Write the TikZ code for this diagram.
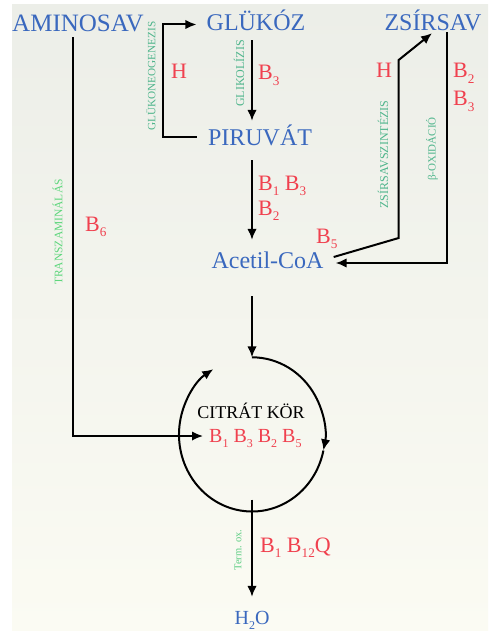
\documentclass[tikz,border=0pt]{standalone}
\usepackage{fontspec}
\setmainfont{Liberation Serif}
\usetikzlibrary{arrows.meta,shapes.geometric,calc}
\definecolor{tblue}{HTML}{3A68BE}
\definecolor{tred}{HTML}{F0414F}
\definecolor{tgreen}{HTML}{4FB58C}
\definecolor{tlgreen}{HTML}{5ED67C}
\definecolor{bgtop}{HTML}{ECEEE8}
\definecolor{bgbot}{HTML}{FBFBF3}
\newcommand\sbs[1]{\raisebox{-0.27em}{\scalebox{0.6}{#1}}}
\begin{document}
\begin{tikzpicture}[x=1pt,y=-1pt,
 arr/.style={draw=black, line width=2pt, -{Latex[length=11pt,width=9.5pt]}},
 mol/.style={text=tblue, font=\fontsize{24}{24}\selectfont, inner sep=0pt, text height=17pt, text depth=0pt, anchor=base},
 vit/.style={text=tred, font=\fontsize{22}{22}\selectfont, inner sep=0pt, anchor=base west},
 proc/.style={text=tgreen, inner sep=0pt, rotate=90},
]
\useasboundingbox (0,0) rectangle (488,631);
\fill[white] (0,0) rectangle (488,631);
\shade[top color=bgtop, bottom color=bgbot] (12,5) rectangle (488,631);

% molecules
\node[mol, font=\fontsize{25}{25}\selectfont] (amino) at (78,32) {AMINOSAV};
\node[mol] (gluk) at (256,31) {GLÜKÓZ};
\node[mol] (zsir) at (433,31) {ZSÍRSAV};
\node[mol] (piru) at (260,146) {PIRUVÁT};
\node[mol] (acetil) at (267.5,268) {Acetil-CoA};
\node[mol, font=\fontsize{20}{20}\selectfont, text height=15pt] (h2o) at (252,624) {H\sbs{2}O};
\node[text=black, font=\fontsize{18}{18}\selectfont, inner sep=0pt, anchor=base] (citrat) at (251,418) {CITRÁT KÖR};

% process labels
\node[proc, font=\fontsize{11.2}{11.2}\selectfont] (gng) at (151,76) {GLÜKONEOGENEZIS};
\node[proc, font=\fontsize{12}{12}\selectfont] (gly) at (239,73.5) {GLIKOLÍZIS};
\node[proc, text=tlgreen, font=\fontsize{11.5}{11.5}\selectfont] (trans) at (57.5,232) {TRANSZAMINÁLÁS};
\node[proc, font=\fontsize{12}{12}\selectfont] (szint) at (383,154.5) {ZSÍRSAVSZINTÉZIS};
\node[proc, font=\fontsize{11}{11}\selectfont] (box) at (432,149) {β-OXIDÁCIÓ};
\node[proc, text=tlgreen!70!tgreen, font=\fontsize{10.5}{10.5}\selectfont] (term) at (238,550) {Term. ox.};

% vitamins
\node[vit] (hg) at (171,79) {H};
\node[vit] (b3g) at (258,80) {B\sbs{3}};
\node[vit] (b13) at (258,190) {B\sbs{1} B\sbs{3}};
\node[vit] (b2p) at (258,215) {B\sbs{2}};
\node[vit] (hz) at (376,78) {H};
\node[vit] (b2z) at (453,78) {B\sbs{2}};
\node[vit] (b3z) at (453,106) {B\sbs{3}};
\node[vit] (b5) at (316,243) {B\sbs{5}};
\node[vit] (b6) at (85,231) {B\sbs{6}};
\node[vit] (b112) at (260,552) {B\sbs{1} B\sbs{12}Q};
\node[vit, font=\fontsize{20}{20}\selectfont, text height=14pt, text depth=0pt] (bcit) at (209,442) {B\sbs{1} B\sbs{3} B\sbs{2} B\sbs{5}};

% citrate cycle
\node[ellipse, minimum width=146pt, minimum height=154pt, inner sep=0pt] (kor) at (252,434.5) {};
\draw[arr] (kor.north) arc[start angle=90, end angle=-12, x radius=73pt, y radius=77pt];
\draw[arr] ($(kor.center)+(-12:73pt and 77pt)$) arc[start angle=-12, end angle=-238, x radius=73pt, y radius=77pt];

% connectors
\draw[arr] ([xshift=-11pt]piru.west) -- ++(-34,0) |- ([xshift=-10pt,yshift=-2pt]gluk.west);
\draw[arr] ([xshift=-4pt,yshift=-9pt]gluk.south) -- ([xshift=-8pt,yshift=8pt]piru.north);
\draw[arr] ([xshift=-8pt,yshift=-14pt]piru.south) -- ([xshift=-15.5pt,yshift=11pt]acetil.north);
\draw[arr] ([xshift=-15.5pt,yshift=-28pt]acetil.south) -- (kor.north);
\draw[arr] ([yshift=12pt]kor.south) -- ([yshift=12pt]h2o.north);
\draw[arr] ([xshift=-5pt,yshift=-5pt]amino.south) |- ([xshift=-6pt,yshift=-1pt]bcit.west);
\draw[arr] ([xshift=10pt,yshift=2.5pt]acetil.east) -- ++(65,-19) -- ++(0,-178) -- ([xshift=-1pt,yshift=-2pt]zsir.south);
\draw[arr] ([xshift=14pt,yshift=-1pt]zsir.south) |- ([xshift=12pt,yshift=-3.5pt]acetil.east);
\end{tikzpicture}
\end{document}
